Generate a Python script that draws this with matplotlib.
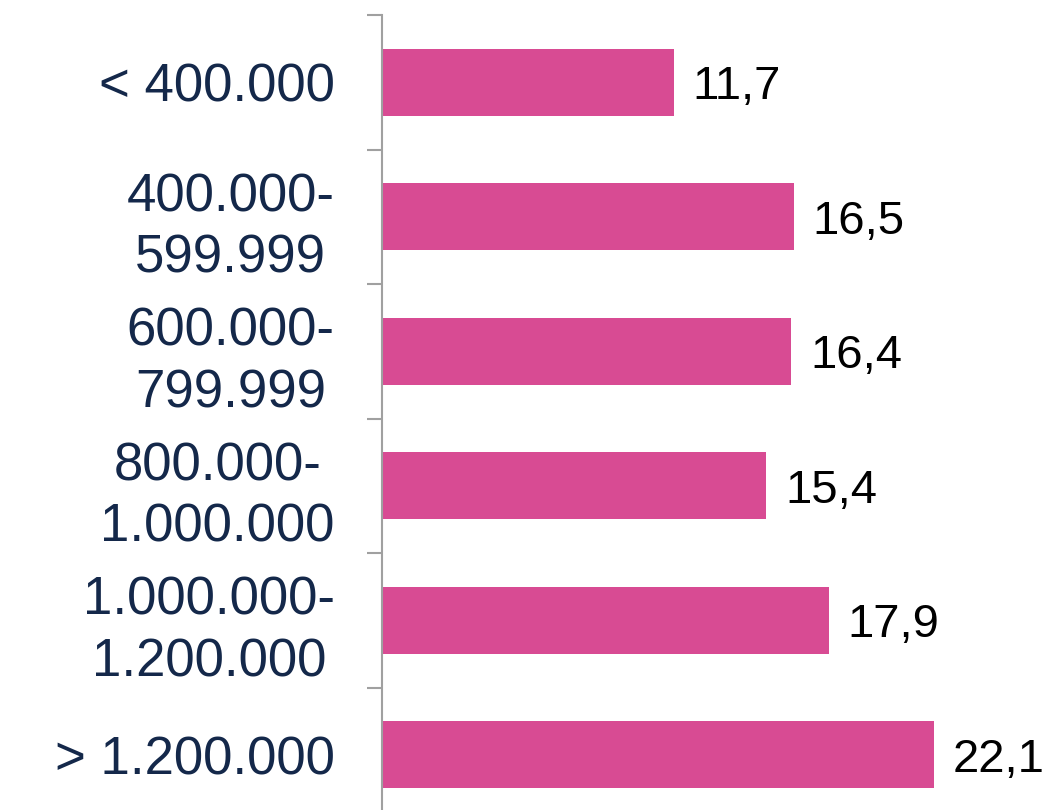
import matplotlib.pyplot as plt

plt.rcParams['font.family'] = ['Liberation Sans', 'DejaVu Sans']

categories = ['< 400.000', '400.000-\n599.999', '600.000-\n799.999',
              '800.000-\n1.000.000', '1.000.000-\n1.200.000', '> 1.200.000']
values = [11.7, 16.5, 16.4, 15.4, 17.9, 22.1]
value_labels = ['11,7', '16,5', '16,4', '15,4', '17,9', '22,1']

bar_color = '#D84B93'
label_color = '#14284A'
axis_color = '#A0A0A0'

fig = plt.figure(figsize=(10.51, 8.10), dpi=100)
ax = fig.add_axes([382 / 1051, -12 / 810, 1 - 382 / 1051, 807 / 810])

pos = list(range(len(categories)))
ax.barh(pos, values, height=0.5, color=bar_color)
ax.set_ylim(len(categories) - 0.5, -0.5)
ax.set_xlim(0, 26.8)

for p, v, lab in zip(pos, values, value_labels):
    ax.text(v + 0.75, p, lab, va='center_baseline', ha='left', fontsize=34, color='black')

# category labels centered between the boundary ticks
ax.set_yticks(pos)
ax.set_yticklabels(categories, fontsize=38, color=label_color,
                   multialignment='center', linespacing=1.3)
ax.tick_params(axis='y', which='major', length=0, pad=34)
ax.set_yticks([i - 0.5 for i in range(len(categories))], minor=True)
ax.tick_params(axis='y', which='minor', length=11, width=1.5, color=axis_color)

ax.set_xticks([])
for side in ['top', 'right', 'bottom']:
    ax.spines[side].set_visible(False)
ax.spines['left'].set_color(axis_color)
ax.spines['left'].set_linewidth(1.5)

fig.savefig('out.png', dpi=100)
